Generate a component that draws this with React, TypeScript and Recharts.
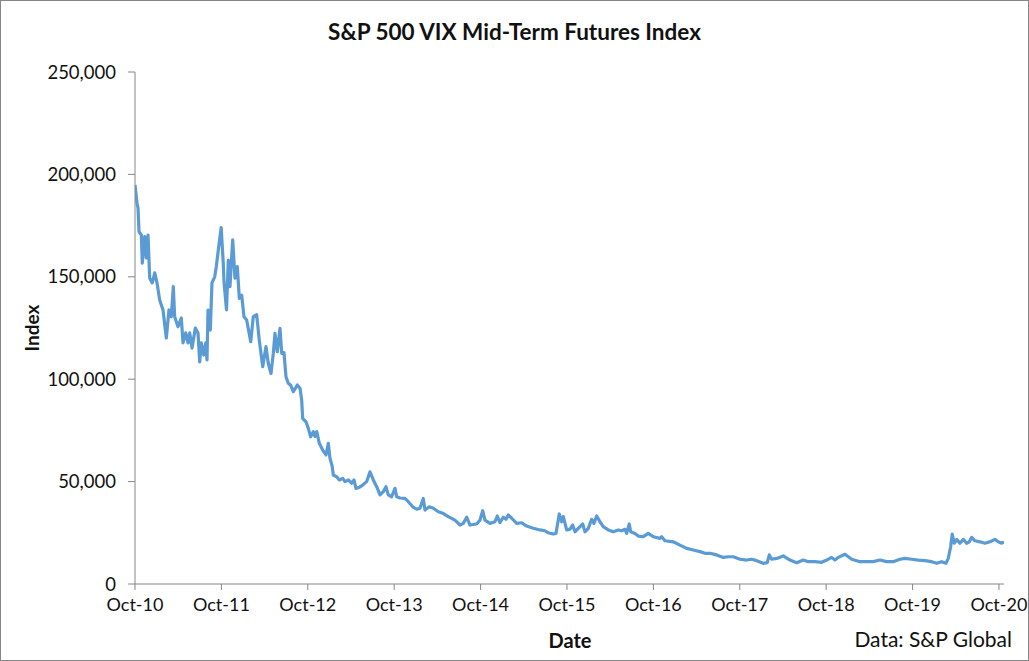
import React from "react";
import { LineChart, Line, XAxis, YAxis } from "recharts";

// time in months since Oct 2010
const months = [
  0, 0.28, 0.42, 0.56, 0.88, 1.01, 1.35, 1.57, 1.81, 2.04, 2.4, 2.74, 3.06, 3.43, 3.89, 4.35, 4.72, 5.04, 5.32, 5.51,
  5.97, 6.43, 6.67, 7.04, 7.36, 7.6, 7.92, 8.38, 8.75, 8.99, 9.21, 9.54, 9.82, 10.0, 10.14, 10.46, 10.69, 11.07, 11.29, 11.57,
  11.97, 12.26, 12.36, 12.71, 12.96, 13.19, 13.57, 13.89, 14.21, 14.49, 14.82, 15.14, 15.51, 16.07, 16.43, 16.9, 17.26, 17.74, 18.19, 18.51,
  18.89, 19.21, 19.44, 19.76, 20.14, 20.38, 20.69, 20.97, 21.29, 21.63, 21.99, 22.54, 22.92, 23.15, 23.29, 23.75, 24.07, 24.4, 24.76, 25.0,
  25.24, 25.6, 26.07, 26.53, 26.85, 27.08, 27.4, 27.54, 28.01, 28.38, 28.85, 29.17, 29.63, 30.1, 30.42, 30.69, 31.15, 31.62, 32.18, 32.64,
  33.1, 33.57, 34.03, 34.49, 34.86, 35.18, 35.65, 36.11, 36.35, 36.81, 37.5, 37.96, 38.57, 39.13, 39.58, 40.04, 40.28, 40.88, 41.43, 42.13,
  42.78, 43.51, 44.44, 45.14, 45.6, 46.07, 46.53, 47.46, 47.92, 48.29, 48.61, 49.31, 50.0, 50.32, 50.69, 51.15, 51.53, 51.85, 52.32, 53.01,
  53.71, 54.4, 55.32, 56.25, 56.94, 57.4, 58.1, 58.47, 58.93, 59.26, 59.49, 59.96, 60.42, 60.79, 61.11, 61.57, 62.18, 62.5, 62.96, 63.43,
  63.75, 64.13, 64.58, 65.04, 65.74, 66.43, 67.13, 67.6, 68.06, 68.29, 68.65, 68.85, 69.44, 69.9, 70.6, 71.29, 71.99, 72.92, 73.15, 73.61,
  74.76, 75.69, 76.63, 77.54, 78.47, 79.17, 79.86, 80.79, 81.71, 82.4, 83.1, 84.03, 84.96, 85.65, 86.35, 87.26, 87.82, 88.1, 88.43, 89.13,
  90.04, 90.97, 91.9, 92.82, 93.51, 94.44, 95.38, 96.07, 96.76, 97.22, 97.68, 98.61, 99.54, 100.69, 101.63, 102.54, 103.47, 104.4, 105.32, 106.25,
  106.94, 107.88, 108.79, 109.72, 110.65, 111.35, 112.04, 112.64, 112.96, 113.29, 113.51, 113.79, 114.13, 114.58, 115.04, 115.51, 115.88, 116.21, 116.67, 117.36,
  118.06, 118.75, 119.44, 119.9, 120.38, 120.7,
];

const values = [
  194800, 185900, 183600, 172000, 170400, 156700, 169600, 159200, 170400, 149400, 147000, 151900, 147000, 138700, 133800, 120100, 133800, 130500, 145200, 130500,
  125600, 129900, 117700, 122600, 117700, 122600, 115200, 125000, 122600, 108500, 117700, 111800, 117700, 109400, 133800, 124000, 147000, 150000, 154900, 163100,
  174000, 156600, 147600, 133800, 158200, 145200, 168000, 149300, 155000, 139500, 141000, 130500, 128900, 118300, 130500, 131500, 119100, 106100, 115900, 107800,
  102800, 112600, 122400, 113400, 124800, 112600, 113000, 101200, 98000, 97000, 93900, 97200, 95600, 89800, 80900, 79200, 76000, 71900, 74400, 72000,
  74400, 68700, 65400, 63000, 68700, 61400, 57300, 53200, 52400, 50800, 51600, 50000, 50800, 49200, 50800, 46700, 47200, 48300, 50000, 54800,
  50800, 47500, 43500, 45100, 47500, 43500, 42600, 46700, 42600, 42000, 41800, 40200, 37700, 36500, 37000, 41800, 36100, 37700, 37000, 35300,
  34500, 32900, 31200, 28800, 29600, 32600, 28800, 29300, 31200, 35800, 31200, 29600, 30400, 33200, 30000, 32600, 31600, 33700, 32100, 29600,
  29900, 28300, 27200, 26400, 26000, 25000, 24400, 24700, 34200, 30400, 32900, 26400, 26800, 28800, 25500, 27200, 29300, 25500, 27200, 31600,
  29600, 33200, 30400, 28000, 26400, 25500, 26400, 26000, 26700, 24700, 29300, 25500, 24700, 23400, 23100, 24700, 23100, 22300, 23100, 21100,
  20600, 19000, 17400, 16600, 15800, 15000, 15000, 14200, 13000, 13300, 13300, 12100, 11700, 12100, 11400, 10100, 10400, 14200, 12100, 12500,
  13700, 11700, 10400, 11700, 10900, 10900, 10600, 11700, 13000, 11700, 13000, 14500, 12100, 10900, 10900, 10900, 11700, 10900, 10900, 12100,
  12500, 12100, 11700, 11400, 10900, 10100, 10900, 10100, 12500, 18200, 24400, 19900, 21800, 19900, 21800, 19900, 20600, 22800, 21100, 20600,
  19900, 20600, 21800, 20600, 19900, 20600,
];

const xTickValues = [0, 12, 24, 36, 48, 60, 72, 84, 96, 108, 120];
const xTickLabels = ["Oct-10", "Oct-11", "Oct-12", "Oct-13", "Oct-14", "Oct-15", "Oct-16", "Oct-17", "Oct-18", "Oct-19", "Oct-20"];
const yTickValues = [0, 50000, 100000, 150000, 200000, 250000];

const data = months.map((t, i) => ({ t, v: values[i] }));

const FONT = "Lato, 'Open Sans', sans-serif";
const TEXT = "#111111";
const AXIS = "#868686";

export default function App() {
  return (
    <div
      style={{
        position: "absolute",
        left: 0,
        top: 0,
        width: 1027,
        height: 659,
        border: "1px solid #868686",
        background: "#fff",
        fontFamily: FONT,
      }}
    >
      <div style={{ position: "absolute", left: -1, top: -1 }}>
        <LineChart
          width={1029}
          height={661}
          data={data}
          margin={{ top: 72, right: 25, bottom: 47, left: 35 }}
        >
          <XAxis
            dataKey="t"
            type="number"
            domain={[0, 120.7]}
            ticks={xTickValues}
            interval={0}
            allowDataOverflow
            height={30}
            tickSize={6}
            tickMargin={8}
            stroke={AXIS}
            tickFormatter={(v: number) => xTickLabels[xTickValues.indexOf(v)] ?? ""}
            tick={{ fill: TEXT, fontSize: 18, fontFamily: FONT }}
          />
          <YAxis
            type="number"
            domain={[0, 250000]}
            ticks={yTickValues}
            interval={0}
            width={100}
            tickSize={7}
            tickMargin={12}
            stroke={AXIS}
            tickFormatter={(v: number) => v.toLocaleString("en-US")}
            tick={{ fill: TEXT, fontSize: 18.5, fontFamily: FONT }}
          />
          <Line
            type="linear"
            dataKey="v"
            stroke="#5B9BD5"
            strokeWidth={3.2}
            strokeLinejoin="round"
            dot={false}
            isAnimationActive={false}
          />
        </LineChart>
      </div>
      <div
        style={{
          position: "absolute",
          left: 0,
          width: 1027,
          top: 17,
          textAlign: "center",
          fontSize: 22.5,
          fontWeight: 700,
          color: TEXT,
          lineHeight: "28px",
        }}
      >
        S&amp;P 500 VIX Mid-Term Futures Index
      </div>
      <div
        style={{
          position: "absolute",
          left: 30,
          top: 327,
          transform: "translate(-50%, -50%) rotate(-90deg)",
          fontSize: 19,
          fontWeight: 700,
          color: TEXT,
          whiteSpace: "nowrap",
        }}
      >
        Index
      </div>
      <div
        style={{
          position: "absolute",
          left: 569,
          top: 639,
          transform: "translate(-50%, -50%)",
          fontSize: 20,
          fontWeight: 700,
          color: TEXT,
          whiteSpace: "nowrap",
        }}
      >
        Date
      </div>
      <div
        style={{
          position: "absolute",
          right: 16,
          top: 637,
          transform: "translateY(-50%)",
          fontSize: 21,
          color: TEXT,
          whiteSpace: "nowrap",
        }}
      >
        Data: S&amp;P Global
      </div>
    </div>
  );
}
